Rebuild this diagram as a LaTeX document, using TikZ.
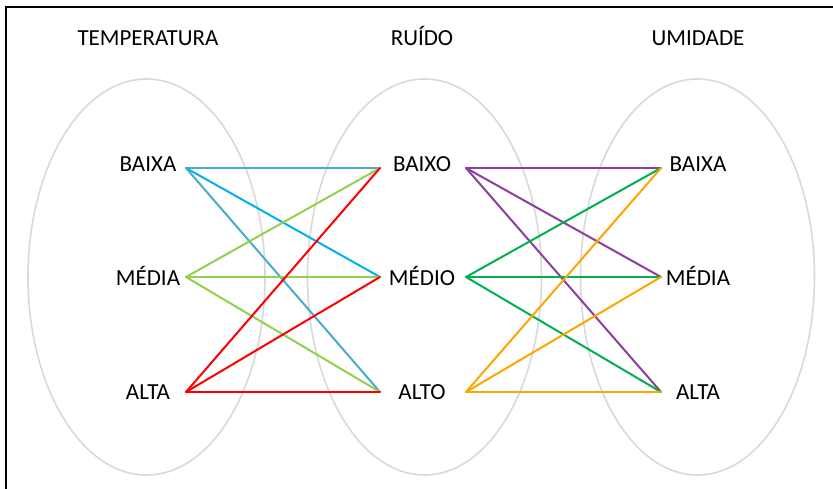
\documentclass[tikz,border=0pt]{standalone}
\usepackage{fontspec}
\setmainfont{Carlito}
\begin{document}
\begin{tikzpicture}[x=1pt,y=-1pt,
  lbl/.style={font=\fontsize{23}{27}\selectfont, text=black, anchor=base, inner sep=0pt},
  group/.style={draw=black!15, line width=1.6pt},
  link/.style={line width=2pt, line cap=round},
  frameline/.style={draw=black, line width=2pt}]
\useasboundingbox (0,0) rectangle (833,489);
\fill[white] (0,0) rectangle (833,489);

% outer frame (left and top edges)
\draw[frameline] (6,489) -- (6,7.5) -- (833,7.5);

% group outlines
\draw[group] (146.5,277) ellipse [x radius=118.5, y radius=198];
\draw[group] (424.5,277) ellipse [x radius=117, y radius=198];
\draw[group] (697.5,277) ellipse [x radius=117, y radius=198];

% titles
\node[lbl] (tTemp) at (148,46) {TEMPERATURA};
\node[lbl] (tRuid) at (422,46) {RUÍDO};
\node[lbl] (tUmid) at (698,46) {UMIDADE};

% category labels
\node[lbl] (tBaixa) at (148,172) {BAIXA};
\node[lbl] (tMedia) at (148,285) {MÉDIA};
\node[lbl] (tAlta)  at (148,399) {ALTA};
\node[lbl] (rBaixo) at (422,172) {BAIXO};
\node[lbl] (rMedio) at (422,285) {MÉDIO};
\node[lbl] (rAlto)  at (422,399) {ALTO};
\node[lbl] (uBaixa) at (698,172) {BAIXA};
\node[lbl] (uMedia) at (698,285) {MÉDIA};
\node[lbl] (uAlta)  at (698,399) {ALTA};

% connection points
\coordinate (tB) at (186,168);
\coordinate (tM) at (186,277);
\coordinate (tA) at (186,392);
\coordinate (rBi) at (380,168);
\coordinate (rMi) at (380,277);
\coordinate (rAi) at (380,392);
\coordinate (rBo) at (466,168);
\coordinate (rMo) at (466,277);
\coordinate (rAo) at (466,392);
\coordinate (uB) at (661,168);
\coordinate (uM) at (661,277);
\coordinate (uA) at (661,392);

% temperatura -> ruido
\draw[link, color={rgb,255:red,75;green,172;blue,198}] (tB) -- (rBi);
\draw[link, color={rgb,255:red,0;green,176;blue,240}] (tB) -- (rMi);
\draw[link, color={rgb,255:red,75;green,172;blue,198}] (tB) -- (rAi);
\draw[link, color={rgb,255:red,146;green,208;blue,80}] (tM) -- (rBi);
\draw[link, color={rgb,255:red,146;green,208;blue,80}] (tM) -- (rMi);
\draw[link, color={rgb,255:red,146;green,208;blue,80}] (tM) -- (rAi);
\draw[link, color=red] (tA) -- (rBi);
\draw[link, color=red] (tA) -- (rMi);
\draw[link, color=red] (tA) -- (rAi);

% ruido -> umidade
\draw[link, color={rgb,255:red,142;green,62;blue,160}] (rBo) -- (uB);
\draw[link, color={rgb,255:red,142;green,62;blue,160}] (rBo) -- (uM);
\draw[link, color={rgb,255:red,142;green,62;blue,160}] (rBo) -- (uA);
\draw[link, color={rgb,255:red,0;green,176;blue,80}] (rMo) -- (uB);
\draw[link, color={rgb,255:red,0;green,176;blue,80}] (rMo) -- (uM);
\draw[link, color={rgb,255:red,0;green,176;blue,80}] (rMo) -- (uA);
\draw[link, color={rgb,255:red,255;green,165;blue,0}] (rAo) -- (uB);
\draw[link, color={rgb,255:red,255;green,165;blue,0}] (rAo) -- (uM);
\draw[link, color={rgb,255:red,255;green,165;blue,0}] (rAo) -- (uA);
\end{tikzpicture}
\end{document}
